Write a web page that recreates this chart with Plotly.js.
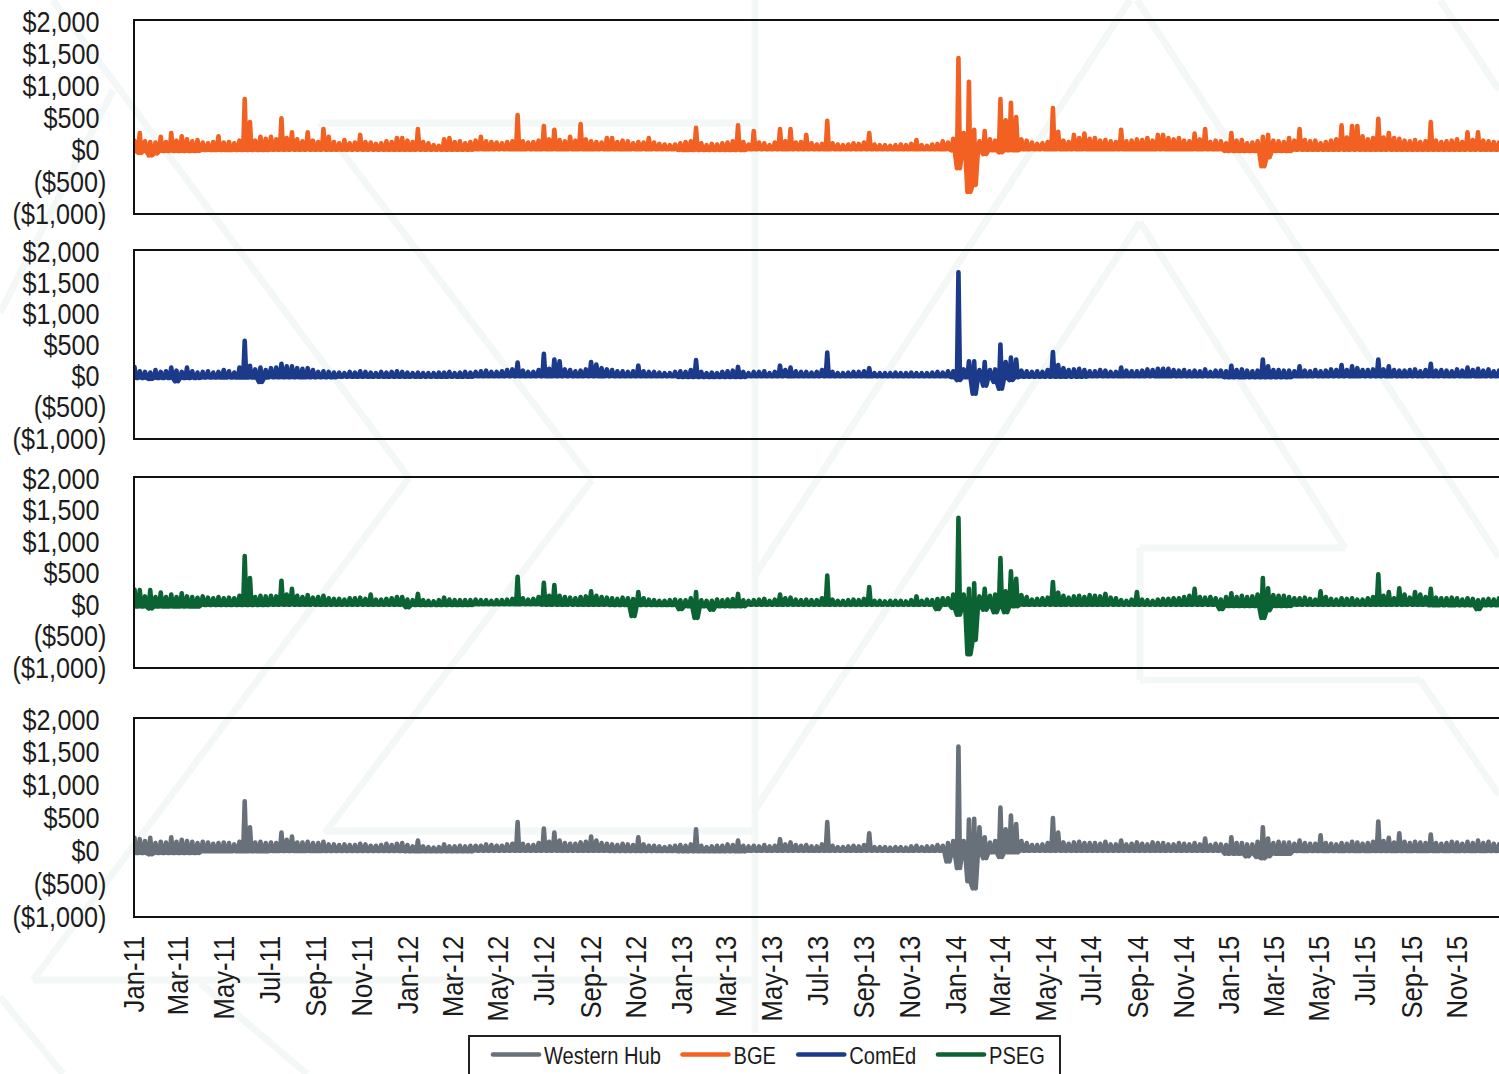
<!DOCTYPE html>
<html>
<head>
<meta charset="utf-8">
<script src="https://cdn.plot.ly/plotly-3.0.1.min.js"></script>
<style>
html,body{margin:0;padding:0;background:#fff;overflow:hidden;width:1499px;height:1074px}
.js-line,.legendlines path{stroke-linejoin:round;stroke-linecap:round}
</style>
</head>
<body>
<div id="chart"></div>
<script>
// Weekly upper envelope ($/MWh), first week = start of Jan-11
const startDate = '2011-01-01';
const bgeHigh = [
130,250,120,110,100,190,110,250,130,200,
150,120,140,100,90,110,200,100,110,90,
130,780,420,130,190,160,190,150,480,170,
260,150,120,260,130,110,310,190,110,90,
140,90,100,220,110,100,80,90,120,110,
170,170,130,110,310,110,90,60,50,150,
170,110,120,90,110,130,190,120,110,100,
90,110,120,530,120,100,110,130,360,150,
300,140,120,190,130,390,150,120,110,100,
170,170,110,130,120,90,110,100,170,100,
80,70,60,70,90,110,120,330,90,60,
80,70,90,100,120,370,110,70,280,100,
90,60,100,310,120,310,100,110,220,90,
70,80,440,90,70,60,70,90,80,100,
250,70,60,60,50,60,70,60,80,140,
60,50,70,80,120,100,160,1420,250,1050,
300,120,280,150,130,780,450,720,500,150,
130,100,80,90,110,640,270,130,110,220,
170,240,160,170,130,140,120,110,300,120,
130,150,140,170,130,220,220,170,150,170,
130,120,240,150,310,110,130,120,90,250,
130,140,90,100,120,190,220,130,120,110,
170,130,310,140,120,130,90,110,130,150,
370,180,360,360,200,150,170,470,180,250,
170,160,130,120,140,110,120,420,130,110,
120,130,150,110,260,140,260,130,120,110,100];
const comedHigh = [
140,70,60,50,90,60,70,130,80,60,
130,70,50,60,70,50,60,90,70,50,
130,560,160,100,130,90,120,130,190,150,
150,120,110,120,90,60,70,60,50,50,
40,60,50,70,60,50,40,60,50,60,
70,60,50,40,50,40,40,40,50,50,
60,40,50,60,50,60,70,80,60,60,
70,90,100,210,80,60,60,90,350,110,
260,230,100,90,70,80,100,220,180,120,
100,90,70,70,60,70,160,70,60,60,
50,40,40,60,70,60,90,250,60,40,
50,40,60,70,80,140,60,40,60,60,
70,40,60,160,90,130,70,60,60,50,
60,90,370,60,40,40,50,60,60,70,
120,40,40,40,40,50,40,40,50,40,
40,40,50,60,50,70,70,1660,100,230,
230,90,220,90,100,500,220,290,260,80,
70,60,70,60,90,380,170,120,90,100,
110,90,70,70,90,80,60,60,130,80,
70,70,80,100,90,110,110,110,90,80,
90,70,80,70,100,60,80,80,70,160,
90,100,80,70,80,260,150,90,90,80,
80,70,150,80,70,90,70,80,100,90,
170,90,150,120,90,90,100,260,100,150,
90,80,80,90,100,70,90,190,80,90,
80,70,100,80,130,90,110,80,100,70,80];
const psegHigh = [
230,220,120,220,110,180,110,150,110,170,
120,110,100,120,100,90,110,90,100,90,
130,760,410,110,130,120,130,120,370,150,
240,130,110,140,100,110,130,90,80,80,
70,90,90,100,80,150,70,70,80,90,
110,110,70,60,160,60,50,40,60,100,
70,60,60,60,60,70,60,60,50,60,
60,70,80,430,90,70,80,110,335,130,
300,130,110,100,90,110,120,200,130,110,
100,90,80,100,90,80,190,90,70,60,
50,50,60,70,60,60,90,190,60,50,
50,70,60,70,80,160,60,50,60,70,
80,50,70,150,90,100,70,60,70,60,
60,90,450,70,50,50,60,70,60,80,
270,50,50,40,50,50,50,40,60,120,
50,70,60,80,90,90,150,1370,150,240,
330,120,240,130,150,730,200,520,400,140,
110,70,80,90,100,350,180,130,100,120,
130,110,140,130,120,160,100,90,60,50,
70,190,70,60,50,70,80,80,90,90,
110,130,240,110,100,110,90,70,110,170,
110,130,110,120,150,410,250,140,130,130,
110,90,90,100,80,70,200,110,80,70,
90,80,90,70,70,90,110,470,130,190,
90,250,150,100,190,150,110,240,100,90,
90,100,90,70,90,80,60,70,80,70,90];
const westHigh = [
190,170,140,190,110,130,120,200,130,160,
140,130,110,130,120,100,110,120,110,90,
130,745,350,120,130,110,120,110,270,160,
210,120,120,130,110,110,130,90,90,80,
90,80,80,100,90,70,70,80,100,80,
100,110,80,60,150,60,50,40,50,90,
60,60,70,60,70,70,70,90,80,70,
70,90,100,430,100,80,80,110,330,130,
270,150,110,100,100,120,130,210,150,110,
100,90,80,100,90,80,200,90,70,70,
60,50,60,70,80,70,90,320,70,50,
60,70,70,90,80,150,70,60,70,60,
80,60,70,170,90,120,80,70,80,60,
60,90,430,70,50,50,60,70,60,80,
260,50,50,50,40,50,50,40,60,70,
50,60,60,80,70,110,140,1580,140,470,
480,350,200,120,140,650,320,530,400,140,
110,80,80,90,110,490,270,120,100,120,
130,110,110,110,100,130,90,90,150,90,
100,120,100,90,120,110,110,90,90,110,
100,90,110,90,180,80,100,90,80,200,
110,110,90,90,130,350,180,110,130,120,
120,100,150,110,100,100,230,110,100,90,
110,100,130,120,100,110,130,440,140,190,
120,260,130,110,130,120,110,240,110,100,
110,130,120,100,130,110,150,110,130,100,90];

// Usual lower edge of each band, one value per quarter
const bgeFloor = [-30,-15,-10,-10,-10,-5,-5,-5,-15,-5,-5,-5,-20,-5,-5,-5,-30,-10,-10,-10];
const comedFloor = [-35,-30,-25,-15,-15,-10,-10,-10,-20,-10,-10,-10,-25,-15,-10,-10,-25,-10,-10,-10];
const psegFloor = [-40,-15,-10,-10,-15,-5,-10,-15,-35,-10,-10,-10,-35,-10,-10,-10,-30,-10,-10,-20];
const westFloor = [-40,-15,-10,-10,-15,-5,-5,-10,-15,-5,-5,-5,-30,-5,-5,-5,-50,-10,-10,-10];

// Weeks with a deeper downward spike, and its value
const bgeDipWeeks = [1,3,4,157,159,160,162,165,215,216];
const bgeDipVals = [-60,-100,-70,-300,-670,-560,-80,-50,-270,-130];
const comedDipWeeks = [3,8,24,157,160,162,164,165,167];
const comedDipVals = [-50,-90,-100,-70,-290,-160,-100,-210,-70];
const psegDipWeeks = [3,52,95,104,107,110,153,156,157,159,160,162,164,166,207,215,216,256];
const psegDipVals = [-70,-50,-190,-80,-220,-90,-80,-60,-170,-795,-570,-90,-130,-130,-80,-220,-100,-80];
const westDipWeeks = [3,155,157,159,160,162,165,212,214,215,216];
const westDipVals = [-60,-170,-270,-470,-580,-120,-100,-90,-100,-120,-90];

const seriesNames = ['Western Hub','BGE','ComEd','PSEG'];
const seriesColors = ['#68707A','#F26122','#1B3A8A','#0B6233'];
const yTickVals = [-1000,-500,0,500,1000,1500,2000];
const yTickText = ['($1,000)','($500)','$0\u00a0','$500\u00a0','$1,000\u00a0','$1,500\u00a0','$2,000\u00a0'];

const W = 1499, H = 1090;
const DAY = 86400000;
const iso = ms => new Date(ms).toISOString().slice(0,19);

function build(high, floor, dipWeeks, dipVals){
  const x = [], y = [], t0 = Date.parse(startDate + 'T00:00:00Z');
  high.forEach((v,i) => {
    const d = t0 + i*7*DAY;
    const at = dipWeeks.indexOf(i);
    const lo = at >= 0 ? dipVals[at] : floor[Math.min(floor.length-1, Math.floor(i/13))];
    x.push(iso(d - 2*DAY), iso(d), iso(d + 2*DAY));
    y.push(lo, v, lo);
  });
  return {x, y};
}

const panels = [
  {top:719, bottom:916, high:westHigh, floor:westFloor, wk:westDipWeeks, val:westDipVals, ax:'4'},
  {top:21,  bottom:213, high:bgeHigh, floor:bgeFloor, wk:bgeDipWeeks, val:bgeDipVals, ax:''},
  {top:251, bottom:438, high:comedHigh, floor:comedFloor, wk:comedDipWeeks, val:comedDipVals, ax:'2'},
  {top:478, bottom:667, high:psegHigh, floor:psegFloor, wk:psegDipWeeks, val:psegDipVals, ax:'3'}
];

const fontFam = '"Liberation Sans",Arial,sans-serif';
const textCol = '#1c1c1c';
const traces = [];
const layout = {
  width:W, height:H, margin:{l:0,r:0,t:0,b:0,pad:0},
  paper_bgcolor:'#ffffff', plot_bgcolor:'rgba(0,0,0,0)',
  font:{family:fontFam,color:textCol},
  showlegend:true,
  legend:{orientation:'h', x:468/W, xanchor:'left', y:1-1035/H, yanchor:'top',
    bgcolor:'#ffffff', bordercolor:'#222222', borderwidth:2,
    font:{family:fontFam,size:24.5,color:textCol}, itemwidth:46, traceorder:'normal'},
  shapes:[]
};

panels.forEach((p,i) => {
  const d = build(p.high,p.floor,p.wk,p.val);
  traces.push({type:'scatter',mode:'lines',name:seriesNames[i],x:d.x,y:d.y,
    xaxis:'x'+p.ax,yaxis:'y'+p.ax,hoverinfo:'skip',
    line:{color:seriesColors[i],width:4.6,shape:'linear',simplify:false}});
  const isBottom = p.ax === '4';
  layout['xaxis'+p.ax] = {
    type:'date', anchor:'y'+p.ax, domain:[134.5/W,1], range:['2011-01-01','2015-12-26'],
    showgrid:false, zeroline:false, showline:true, mirror:true, linecolor:'#111', linewidth:2,
    ticks:'', dtick:'M2', tick0:'2011-01-01', tickformat:'%b-%y', tickangle:-90,
    showticklabels:isBottom, ticklabelstandoff:isBottom?6:0,
    tickfont:{family:fontFam,size:29.5,color:textCol}, automargin:false
  };
  layout['yaxis'+p.ax] = {
    anchor:'x'+p.ax, domain:[1-p.bottom/H,1-p.top/H], range:[-1000,2000],
    showgrid:false, zeroline:false, showline:true, mirror:true, linecolor:'#111', linewidth:2,
    ticks:'', tickmode:'array', tickvals:yTickVals, ticktext:yTickText,
    ticklabelstandoff:20,
    tickfont:{family:fontFam,size:30,color:textCol}, automargin:false
  };
});

// Pale background emblem behind the chart
const emblem = [
 [53,0,409,478],[409,478,33,980],[33,980,755,980],
 [320,123,592,480],[592,480,325,833],[325,831,755,831],
 [320,123,755,123],[113,90,0,313],[755,0,755,1033],
 [0,997,63,1074],[200,983,307,1074],
 [1130,0,755,575],[1137,0,1499,557],
 [1140,222,1345,548],[1140,222,755,810],
 [1345,548,1140,548],[1140,548,1140,680],[1140,680,1420,680],[1420,680,1499,795],
 [1440,0,1499,90]
];
emblem.forEach(s => layout.shapes.push({type:'line',xref:'paper',yref:'paper',layer:'below',
  x0:s[0]/W,y0:1-s[1]/H,x1:s[2]/W,y1:1-s[3]/H,line:{color:'#f3f7f6',width:7}}));

// No narrow face is installed: condense the real text to the reference's narrow setting
const condenseText = (gd, selector, factor) => {
  gd.querySelectorAll(selector).forEach(t => {
    const len = t.getComputedTextLength();
    t.setAttribute('textLength', (len*factor).toFixed(1));
    t.setAttribute('lengthAdjust','spacingAndGlyphs');
  });
};
const legendShift = [18,4,7,4];
Plotly.newPlot('chart',traces,layout,{displayModeBar:false,staticPlot:true}).then(gd => {
  condenseText(gd,'.xaxislayer-above text',0.87);
  condenseText(gd,'.yaxislayer-above text',0.84);
  condenseText(gd,'.legendtext',0.82);
  gd.querySelectorAll('.legend .traces').forEach((g,i) => {
    const m = /translate\(([-\d.]+),\s*([-\d.]+)\)/.exec(g.getAttribute('transform'));
    if (m) g.setAttribute('transform','translate('+(parseFloat(m[1])+legendShift[i])+','+(parseFloat(m[2])-5)+')');
  });
});
</script>
</body>
</html>
